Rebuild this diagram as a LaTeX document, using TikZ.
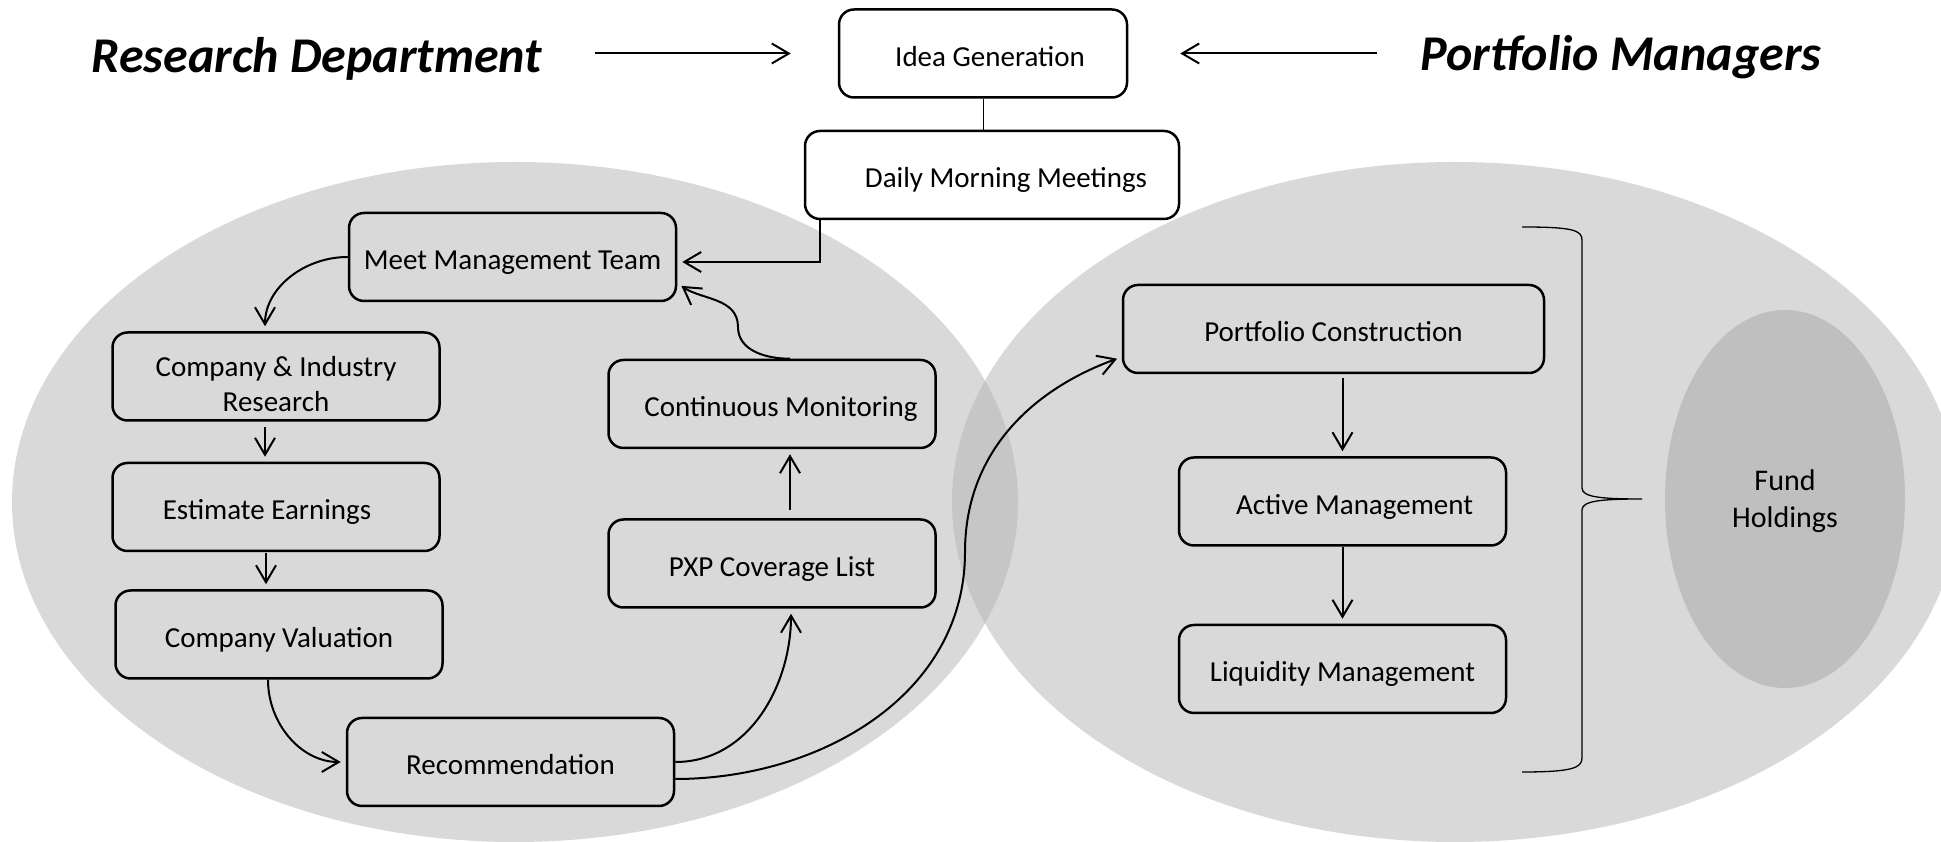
\documentclass[tikz,border=0pt]{standalone}
\usepackage{fontspec}
\setmainfont{Carlito}
\usetikzlibrary{arrows.meta,shapes.geometric,positioning}
\definecolor{bubble}{HTML}{D9D9D9}
\definecolor{bubbledark}{HTML}{C6C6C6}
\definecolor{holdgray}{HTML}{BFBFBF}
\tikzset{
  every picture/.style = {
    x = 1pt,
    y = 1pt,
    >={Straight Barb[length=17pt,width=20pt]},
    node distance = 40pt and 40pt,
  }
  ,
  block/.style = {
    rectangle,
    rounded corners = 15pt,
    draw,
    line width = 2.5pt,
    font = \fontsize{29}{35}\selectfont,
    align = center,
    minimum width = 327pt,
    minimum height = 88pt,
    inner sep = 0pt,
    text height = 26pt,
    text depth = 0pt
  }
  , % white boxes at the top
  topblock/.style = {
    block,
    fill = white
  }
  , % text a little off centre
  textright/.style = {
    execute at begin node = {\hspace*{#1}}
  }
  ,
  textleft/.style = {
    execute at end node = {\hspace*{#1}}
  }
  , % big titles
  heading/.style = {
    font = \fontsize{50}{60}\selectfont\bfseries\itshape,
    inner sep = 0pt,
    anchor = base
  }
  , % the dark oval
  holding/.style = {
    ellipse,
    fill = holdgray,
    minimum width = 240pt,
    minimum height = 378pt,
    font = \fontsize{30}{37}\selectfont,
    align = center,
    text depth = 0pt
  }
  , % arrows between boxes
  flow/.style = {
    ->,
    line width = 2pt,
    shorten > = 5pt
  }
}

\begin{document}
\begin{tikzpicture}
\useasboundingbox (0,0) rectangle (1941,842);

% the two groups
\fill[bubble] (515,340) ellipse [x radius=503pt, y radius=340pt];
\fill[bubble] (1455,340) ellipse [x radius=503pt, y radius=340pt];
\begin{scope}
\clip (515,340) ellipse [x radius=503pt, y radius=340pt];
\fill[bubbledark] (1455,340) ellipse [x radius=503pt, y radius=340pt];
\end{scope}

\node[heading] (rd) at (317,769) {Research Department};
\node[heading] (pm) at (1621,771) {Portfolio Managers};

\node[topblock, minimum width=288pt, textright=14pt] (idea) at (983,788.5) {Idea Generation};
\node[topblock, minimum width=374pt, textright=28pt, below = 31pt of idea, xshift=9pt] (dmm) {Daily Morning Meetings};

% research side
\node[block] (mmt) at (512.5,585) {Meet Management Team};
\node[block, text height=71pt] (cir) at (276,465.5) {Company \& Industry\\Research};
\node[block, textleft=18pt, below = 40pt of cir] (ee) {Estimate Earnings};
\node[block, below = 37pt of ee, xshift=3pt] (cv) {Company Valuation};
\node[block] (rec) at (510.5,80) {Recommendation};
\node[block] (pxp) at (772,278.5) {PXP Coverage List};
\node[block, textright=18pt, above = 69pt of pxp] (cm) {Continuous Monitoring};

% portfolio side
\node[block, minimum width=421pt] (pc) at (1333.5,513) {Portfolio Construction};
\node[block, textright=24pt, below = 82pt of pc, xshift=9pt] (am) {Active Management};
\node[block, below = 77pt of am] (lm) {Liquidity Management};
\node[holding] (fh) at (1785,343) {Fund\\Holdings};

% brace
\draw[line width=1.3pt] (1522,615) .. controls (1572,615) and (1582,612) .. (1582,602)
  -- (1582,354) .. controls (1582,345) and (1600,343) .. (1642,343)
  .. controls (1600,343) and (1582,341) .. (1582,332)
  -- (1582,84) .. controls (1582,74) and (1572,70) .. (1522,70);

\draw[flow, shorten >=0pt] ([xshift=53pt]rd.east |- idea.west) -- ([xshift=-47pt]idea.west);
\draw[flow, shorten >=0pt] ([xshift=-43pt]pm.west |- idea.east) -- ([xshift=52pt]idea.east);
\draw[line width=1pt] (idea.south) -- (idea.south |- dmm.north);
\draw[flow] ([xshift=16pt]dmm.south west) |- ([yshift=-5pt]mmt.east);

\draw[flow] (mmt.west) to[out=180, in=90] ([xshift=-11pt]cir.north);
\draw[flow, shorten <=5pt] ([xshift=-11pt]cir.south) -- ([xshift=-11pt]ee.north);
\draw[flow, shorten <=1pt] ([xshift=-10pt]ee.south) -- ([xshift=-10pt]ee.south |- cv.north);
\draw[flow] ([xshift=-11pt]cv.south) to[out=-90, in=180] (rec.west);
\draw[flow] (rec.east) to[out=0, in=-90] ([xshift=19pt]pxp.south);
\draw[flow, shorten <=8pt] ([xshift=18pt]pxp.north) -- ([xshift=18pt]pxp.north |- cm.south);
\coordinate (cmup) at (738,515);
\draw[flow] ([xshift=18pt]cm.north) to[out=180, in=-90] (cmup) to[out=90, in=-35] ([yshift=-26pt]mmt.east);

\coordinate (turn) at (965,290);
\draw[flow] ([yshift=-17pt]rec.east) to[out=0, in=-90] (turn) to[out=90, in=200] ([yshift=-28pt]pc.west);
\draw[flow, shorten <=4pt] (am.north |- pc.south) -- (am.north);
\draw[flow] (am.south) -- (lm.north);
\end{tikzpicture}
\end{document}
